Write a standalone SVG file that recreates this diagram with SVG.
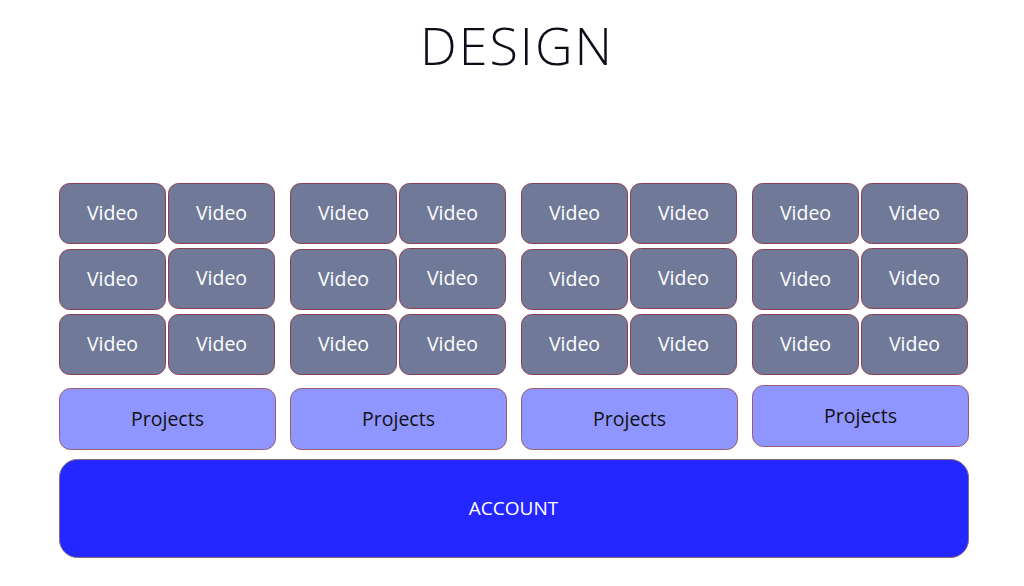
<svg xmlns="http://www.w3.org/2000/svg" width="1024" height="586" viewBox="0 0 1024 586">
<style>
  .v rect { fill: #707a98; stroke: #8c3f52; stroke-width: 1; }
  .v text { font-family: "Open Sans", "Noto Sans", sans-serif; font-size: 19.5px; fill: #ffffff; text-anchor: middle; }
  .p rect { fill: #9096ff; stroke: #9a5a70; stroke-width: 1; }
  .p text { font-family: "Open Sans", "Noto Sans", sans-serif; font-size: 19.5px; fill: #111111; text-anchor: middle; }
  .a rect { fill: #2427ff; stroke: #8a6a7a; stroke-width: 1; }
  .a text { font-family: "Open Sans", "Noto Sans", sans-serif; font-size: 19px; fill: #ffffff; text-anchor: middle; }
  .title { font-family: "Open Sans", "Noto Sans", sans-serif; font-weight: 300; font-size: 52px; fill: #0d0d1a; text-anchor: middle; letter-spacing: 2px; }
</style>
<rect x="0" y="0" width="1024" height="586" fill="#ffffff"/>
<text class="title" x="517" y="65">DESIGN</text>

<g id="videos-1" class="v">
  <rect x="59.5" y="183.5" width="106" height="60" rx="10"/><text x="112.5" y="220">Video</text>
  <rect x="168.5" y="183.5" width="106" height="60" rx="10"/><text x="221.5" y="220">Video</text>
  <rect x="59.5" y="249.5" width="106" height="60" rx="10"/><text x="112.5" y="286">Video</text>
  <rect x="168.5" y="248.5" width="106" height="60" rx="10"/><text x="221.5" y="285">Video</text>
  <rect x="59.5" y="314.5" width="106" height="60" rx="10"/><text x="112.5" y="351">Video</text>
  <rect x="168.5" y="314.5" width="106" height="60" rx="10"/><text x="221.5" y="351">Video</text>
</g>
<g id="videos-2" class="v">
  <rect x="290.5" y="183.5" width="106" height="60" rx="10"/><text x="343.5" y="220">Video</text>
  <rect x="399.5" y="183.5" width="106" height="60" rx="10"/><text x="452.5" y="220">Video</text>
  <rect x="290.5" y="249.5" width="106" height="60" rx="10"/><text x="343.5" y="286">Video</text>
  <rect x="399.5" y="248.5" width="106" height="60" rx="10"/><text x="452.5" y="285">Video</text>
  <rect x="290.5" y="314.5" width="106" height="60" rx="10"/><text x="343.5" y="351">Video</text>
  <rect x="399.5" y="314.5" width="106" height="60" rx="10"/><text x="452.5" y="351">Video</text>
</g>
<g id="videos-3" class="v">
  <rect x="521.5" y="183.5" width="106" height="60" rx="10"/><text x="574.5" y="220">Video</text>
  <rect x="630.5" y="183.5" width="106" height="60" rx="10"/><text x="683.5" y="220">Video</text>
  <rect x="521.5" y="249.5" width="106" height="60" rx="10"/><text x="574.5" y="286">Video</text>
  <rect x="630.5" y="248.5" width="106" height="60" rx="10"/><text x="683.5" y="285">Video</text>
  <rect x="521.5" y="314.5" width="106" height="60" rx="10"/><text x="574.5" y="351">Video</text>
  <rect x="630.5" y="314.5" width="106" height="60" rx="10"/><text x="683.5" y="351">Video</text>
</g>
<g id="videos-4" class="v">
  <rect x="752.5" y="183.5" width="106" height="60" rx="10"/><text x="805.5" y="220">Video</text>
  <rect x="861.5" y="183.5" width="106" height="60" rx="10"/><text x="914.5" y="220">Video</text>
  <rect x="752.5" y="249.5" width="106" height="60" rx="10"/><text x="805.5" y="286">Video</text>
  <rect x="861.5" y="248.5" width="106" height="60" rx="10"/><text x="914.5" y="285">Video</text>
  <rect x="752.5" y="314.5" width="106" height="60" rx="10"/><text x="805.5" y="351">Video</text>
  <rect x="861.5" y="314.5" width="106" height="60" rx="10"/><text x="914.5" y="351">Video</text>
</g>

<g id="projects-1" class="p"><rect x="59.5" y="388.5" width="216" height="61" rx="11"/><text x="167.5" y="426">Projects</text></g>
<g id="projects-2" class="p"><rect x="290.5" y="388.5" width="216" height="61" rx="11"/><text x="398.5" y="426">Projects</text></g>
<g id="projects-3" class="p"><rect x="521.5" y="388.5" width="216" height="61" rx="11"/><text x="629.5" y="426">Projects</text></g>
<g id="projects-4" class="p"><rect x="752.5" y="385.5" width="216" height="61" rx="11"/><text x="860.5" y="423">Projects</text></g>

<g id="account" class="a"><rect x="59.5" y="459.5" width="909" height="98" rx="18"/><text x="513.5" y="515">ACCOUNT</text></g>

<g id="connectors"></g>
</svg>
